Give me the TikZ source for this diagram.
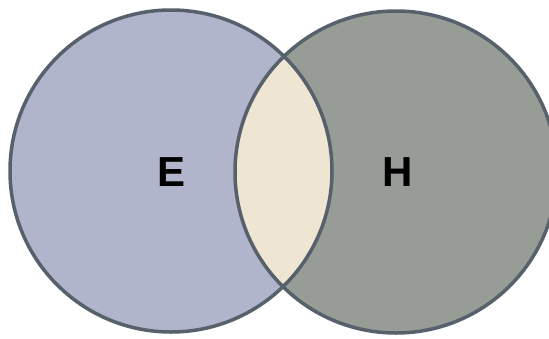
\documentclass[tikz,border=0pt]{standalone}
\usepackage{fontspec}
\setmainfont{Liberation Sans}
\definecolor{leftfill}{HTML}{B1B5CB}
\definecolor{rightfill}{HTML}{989C96}
\definecolor{lensfill}{HTML}{EEE5D3}
\definecolor{edge}{HTML}{56616B}
\tikzset{
  setlabel/.style={font=\fontsize{42}{50}\selectfont\bfseries, text=black, inner sep=0pt},
  ring/.style={draw=edge, line width=3.5pt}
}
\begin{document}
\begin{tikzpicture}[x=1pt,y=-1pt]
\useasboundingbox (0,0) rectangle (549,338);
\def\R{161}
\coordinate (cE) at (171,171);
\coordinate (cH) at (396,172);
\fill[leftfill] (cE) circle (\R);
\fill[rightfill] (cH) circle (\R);
\begin{scope}
  \clip (cE) circle (\R);
  \fill[lensfill] (cH) circle (\R);
\end{scope}
\draw[ring] (cE) circle (\R);
\draw[ring] (cH) circle (\R);
\node[setlabel] (E) at (172,172) {E};
\node[setlabel] (H) at (398,172) {H};
\end{tikzpicture}
\end{document}
